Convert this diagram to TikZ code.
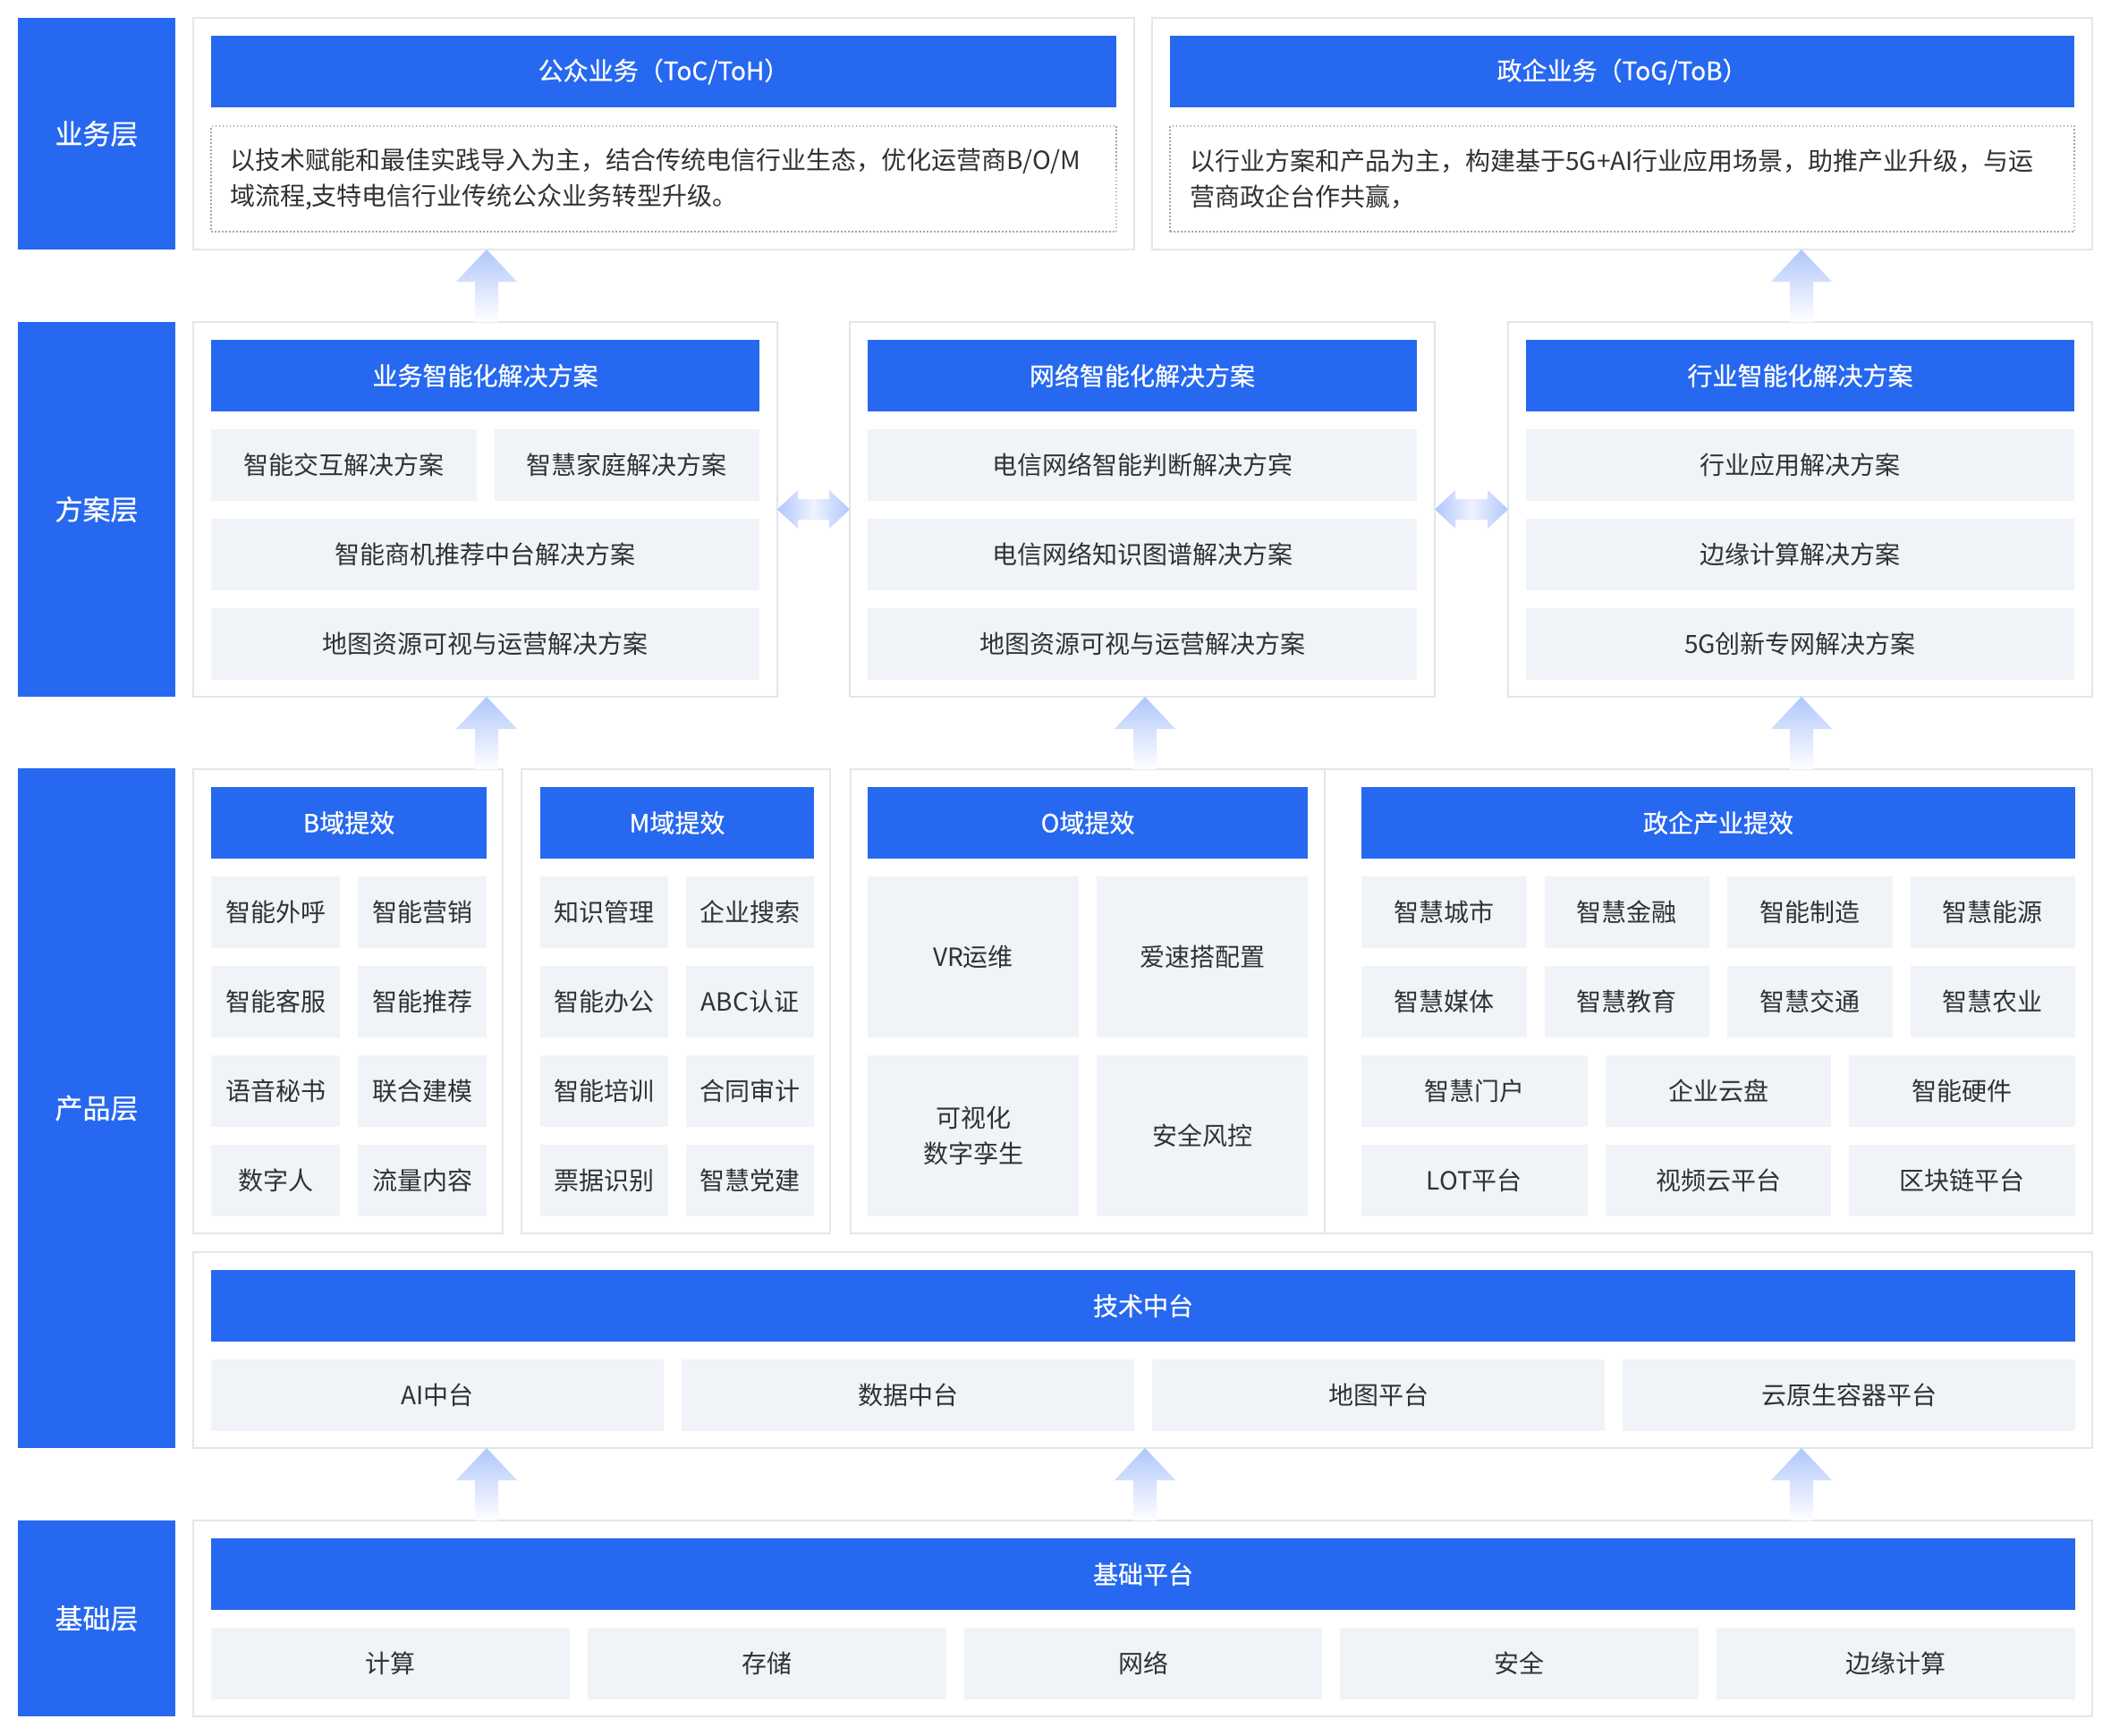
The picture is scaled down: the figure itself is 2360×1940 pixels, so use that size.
\documentclass[tikz,border=0pt]{standalone}
\usepackage{fontspec}
\setmainfont{Noto Sans CJK SC}
\newfontfamily\medfont{Noto Sans CJK SC}[FakeBold=0.6]
\usetikzlibrary{calc}
\definecolor{hblue}{RGB}{38,104,240}
\definecolor{itemgray}{RGB}{240,243,247}
\definecolor{bordergray}{RGB}{226,230,235}
\definecolor{txt}{RGB}{48,49,51}
\definecolor{arrowc}{RGB}{176,198,252}
\definecolor{dotgray}{RGB}{165,165,165}
\tikzset{
  box/.style={inner sep=0pt, outer sep=0pt},
  labelbox/.style={box, fill=hblue, text=white, font=\fontsize{31}{36}\selectfont\medfont},
  panel/.style={box, draw=bordergray, line width=2pt, fill=white},
  header/.style={box, fill=hblue, text=white, font=\fontsize{28}{34}\selectfont\medfont},
  item/.style={box, fill=itemgray, text=txt, font=\fontsize{28}{40}\selectfont, align=center},
  dotbox/.style={box, draw=dotgray, line width=1.5pt, dash pattern=on 1.5pt off 2.5pt},
  desc/.style={inner sep=0pt, text=txt, font=\fontsize{28}{40}\selectfont, align=left, anchor=west},
  arrowshade/.style={top color=arrowc, bottom color=white},
  dblshade/.style={left color=arrowc, right color=arrowc, middle color=arrowc!22},
}
\newcommand{\rbox}[7]{%
  \node[#2, minimum width={(#5)-(#3)}, minimum height={(#6)-(#4)}] (#1) at ({((#3)+(#5))/2},{((#4)+(#6))/2}) {#7};}
\newcommand{\uparr}[3]{% x coordinate name, lower node, upper node
  \path (#1 |- #3.south) coordinate (ut) (#1 |- #2.north) coordinate (ub);
  \shade[arrowshade] (ut) -- ([xshift=34pt,yshift=-36pt]ut) -- ([xshift=13pt,yshift=-36pt]ut)
    -- ([xshift=13pt]ub) -- ([xshift=-13pt]ub) -- ([xshift=-13pt,yshift=-36pt]ut)
    -- ([xshift=-34pt,yshift=-36pt]ut) -- cycle;}
\newcommand{\dblarr}[2]{% left node, right node
  \path (#1.east) coordinate (dl) (#2.west) coordinate (dr);
  \shade[dblshade] (dl) -- ([xshift=23pt,yshift=21.5pt]dl) -- ([xshift=23pt,yshift=11.5pt]dl)
    -- ([xshift=-23pt,yshift=11.5pt]dr) -- ([xshift=-23pt,yshift=21.5pt]dr) -- (dr)
    -- ([xshift=-23pt,yshift=-21.5pt]dr) -- ([xshift=-23pt,yshift=-11.5pt]dr)
    -- ([xshift=23pt,yshift=-11.5pt]dl) -- ([xshift=23pt,yshift=-21.5pt]dl) -- cycle;}
\begin{document}
\begin{tikzpicture}[x=1pt,y=-1pt]
\useasboundingbox (0,0) rectangle (2360,1940);
\fill[white] (0,0) rectangle (2360,1940);
\coordinate (xa) at (544,0);
\coordinate (xb) at (1280,0);
\coordinate (xc) at (2014,0);
% layer labels
\rbox{lab1}{labelbox}{20}{20}{196}{279}{业务层}
\rbox{lab2}{labelbox}{20}{360}{196}{779}{方案层}
\rbox{lab3}{labelbox}{20}{859}{196}{1619}{产品层}
\rbox{lab4}{labelbox}{20}{1700}{196}{1919}{基础层}
% layer 1
\rbox{b1L}{panel}{216}{20}{1268}{279}{}
\rbox{b1R}{panel}{1288}{20}{2339}{279}{}
\rbox{h1L}{header}{236}{40}{1248}{120}{公众业务（ToC/ToH）}
\rbox{h1R}{header}{1308}{40}{2319}{120}{政企业务（ToG/ToB）}
\rbox{d1L}{dotbox}{236}{141}{1248}{259}{}
\rbox{d1R}{dotbox}{1308}{141}{2319}{259}{}
\node[desc] (t1L) at ($(d1L.west)+(21,0)$) {以技术赋能和最佳实践导入为主，结合传统电信行业生态，优化运营商B/O/M\\域流程,支特电信行业传统公众业务转型升级。};
\node[desc] (t1R) at ($(d1R.west)+(22,0)$) {以行业方案和产品为主，构建基于5G+AI行业应用场景，助推产业升级，与运\\营商政企台作共赢，};
% layer 2
\rbox{b2L}{panel}{216}{360}{869}{779}{}
\rbox{b2M}{panel}{950}{360}{1604}{779}{}
\rbox{b2R}{panel}{1686}{360}{2339}{779}{}
\rbox{h2L}{header}{236}{380}{849}{460}{业务智能化解决方案}
\rbox{h2M}{header}{970}{380}{1584}{460}{网络智能化解决方案}
\rbox{h2R}{header}{1706}{380}{2319}{460}{行业智能化解决方案}
\rbox{s11}{item}{236}{480}{532.5}{560}{智能交互解决方案}
\rbox{s12}{item}{552.5}{480}{849}{560}{智慧家庭解决方案}
\rbox{s13}{item}{236}{580}{849}{660}{智能商机推荐中台解决方案}
\rbox{s14}{item}{236}{680}{849}{760}{地图资源可视与运营解决方案}
\rbox{s21}{item}{970}{480}{1584}{560}{电信网络智能判断解决方宾}
\rbox{s22}{item}{970}{580}{1584}{660}{电信网络知识图谱解决方案}
\rbox{s23}{item}{970}{680}{1584}{760}{地图资源可视与运营解决方案}
\rbox{s31}{item}{1706}{480}{2319}{560}{行业应用解决方案}
\rbox{s32}{item}{1706}{580}{2319}{660}{边缘计算解决方案}
\rbox{s33}{item}{1706}{680}{2319}{760}{5G创新专网解决方案}
% layer 3
\rbox{pB}{panel}{216}{860}{562}{1379}{}
\rbox{pM}{panel}{583}{860}{928}{1379}{}
\rbox{pO}{panel}{951}{860}{1481}{1379}{}
\rbox{pG}{panel}{1481}{860}{2339}{1379}{}
\rbox{hB}{header}{236}{880}{544}{960}{B域提效}
\rbox{hM}{header}{604}{880}{910}{960}{M域提效}
\rbox{hO}{header}{970}{880}{1462}{960}{O域提效}
\rbox{hG}{header}{1522}{880}{2320}{960}{政企产业提效}
% B
\rbox{B11}{item}{236}{980}{380}{1060}{智能外呼}
\rbox{B12}{item}{400}{980}{544}{1060}{智能营销}
\rbox{B21}{item}{236}{1080}{380}{1160}{智能客服}
\rbox{B22}{item}{400}{1080}{544}{1160}{智能推荐}
\rbox{B31}{item}{236}{1180}{380}{1260}{语音秘书}
\rbox{B32}{item}{400}{1180}{544}{1260}{联合建模}
\rbox{B41}{item}{236}{1280}{380}{1360}{数字人}
\rbox{B42}{item}{400}{1280}{544}{1360}{流量内容}
% M
\rbox{M11}{item}{604}{980}{747}{1060}{知识管理}
\rbox{M12}{item}{767}{980}{910}{1060}{企业搜索}
\rbox{M21}{item}{604}{1080}{747}{1160}{智能办公}
\rbox{M22}{item}{767}{1080}{910}{1160}{ABC认证}
\rbox{M31}{item}{604}{1180}{747}{1260}{智能培训}
\rbox{M32}{item}{767}{1180}{910}{1260}{合同审计}
\rbox{M41}{item}{604}{1280}{747}{1360}{票据识别}
\rbox{M42}{item}{767}{1280}{910}{1360}{智慧党建}
% O
\rbox{O11}{item}{970}{980}{1206}{1160}{VR运维}
\rbox{O12}{item}{1226}{980}{1462}{1160}{爱速搭配置}
\rbox{O21}{item}{970}{1180}{1206}{1360}{可视化\\数字孪生}
\rbox{O22}{item}{1226}{1180}{1462}{1360}{安全风控}
% Gov
\rbox{G11}{item}{1522}{980}{1706.5}{1060}{智慧城市}
\rbox{G12}{item}{1726.5}{980}{1911}{1060}{智慧金融}
\rbox{G13}{item}{1931}{980}{2115.5}{1060}{智能制造}
\rbox{G14}{item}{2135.5}{980}{2320}{1060}{智慧能源}
\rbox{G21}{item}{1522}{1080}{1706.5}{1160}{智慧媒体}
\rbox{G22}{item}{1726.5}{1080}{1911}{1160}{智慧教育}
\rbox{G23}{item}{1931}{1080}{2115.5}{1160}{智慧交通}
\rbox{G24}{item}{2135.5}{1080}{2320}{1160}{智慧农业}
\rbox{G31}{item}{1522}{1180}{1774.7}{1260}{智慧门户}
\rbox{G32}{item}{1794.7}{1180}{2047.3}{1260}{企业云盘}
\rbox{G33}{item}{2067.3}{1180}{2320}{1260}{智能硬件}
\rbox{G41}{item}{1522}{1280}{1774.7}{1360}{LOT平台}
\rbox{G42}{item}{1794.7}{1280}{2047.3}{1360}{视频云平台}
\rbox{G43}{item}{2067.3}{1280}{2320}{1360}{区块链平台}
% tech platform
\rbox{pT}{panel}{216}{1400}{2339}{1619}{}
\rbox{hT}{header}{236}{1420}{2320}{1500}{技术中台}
\rbox{T1}{item}{236}{1520}{742}{1600}{AI中台}
\rbox{T2}{item}{762}{1520}{1268}{1600}{数据中台}
\rbox{T3}{item}{1288}{1520}{1794}{1600}{地图平台}
\rbox{T4}{item}{1814}{1520}{2320}{1600}{云原生容器平台}
% base
\rbox{pF}{panel}{216}{1700}{2339}{1919}{}
\rbox{hF}{header}{236}{1720}{2320}{1800}{基础平台}
\rbox{F1}{item}{236}{1820}{636.8}{1900}{计算}
\rbox{F2}{item}{656.8}{1820}{1057.6}{1900}{存储}
\rbox{F3}{item}{1077.6}{1820}{1478.4}{1900}{网络}
\rbox{F4}{item}{1498.4}{1820}{1899.2}{1900}{安全}
\rbox{F5}{item}{1919.2}{1820}{2320}{1900}{边缘计算}
% arrows
\uparr{xa}{b2L}{b1L}
\uparr{xc}{b2R}{b1R}
\uparr{xa}{pB}{b2L}
\uparr{xb}{pO}{b2M}
\uparr{xc}{pG}{b2R}
\uparr{xa}{pF}{pT}
\uparr{xb}{pF}{pT}
\uparr{xc}{pF}{pT}
\dblarr{b2L}{b2M}
\dblarr{b2M}{b2R}
\end{tikzpicture}
\end{document}
